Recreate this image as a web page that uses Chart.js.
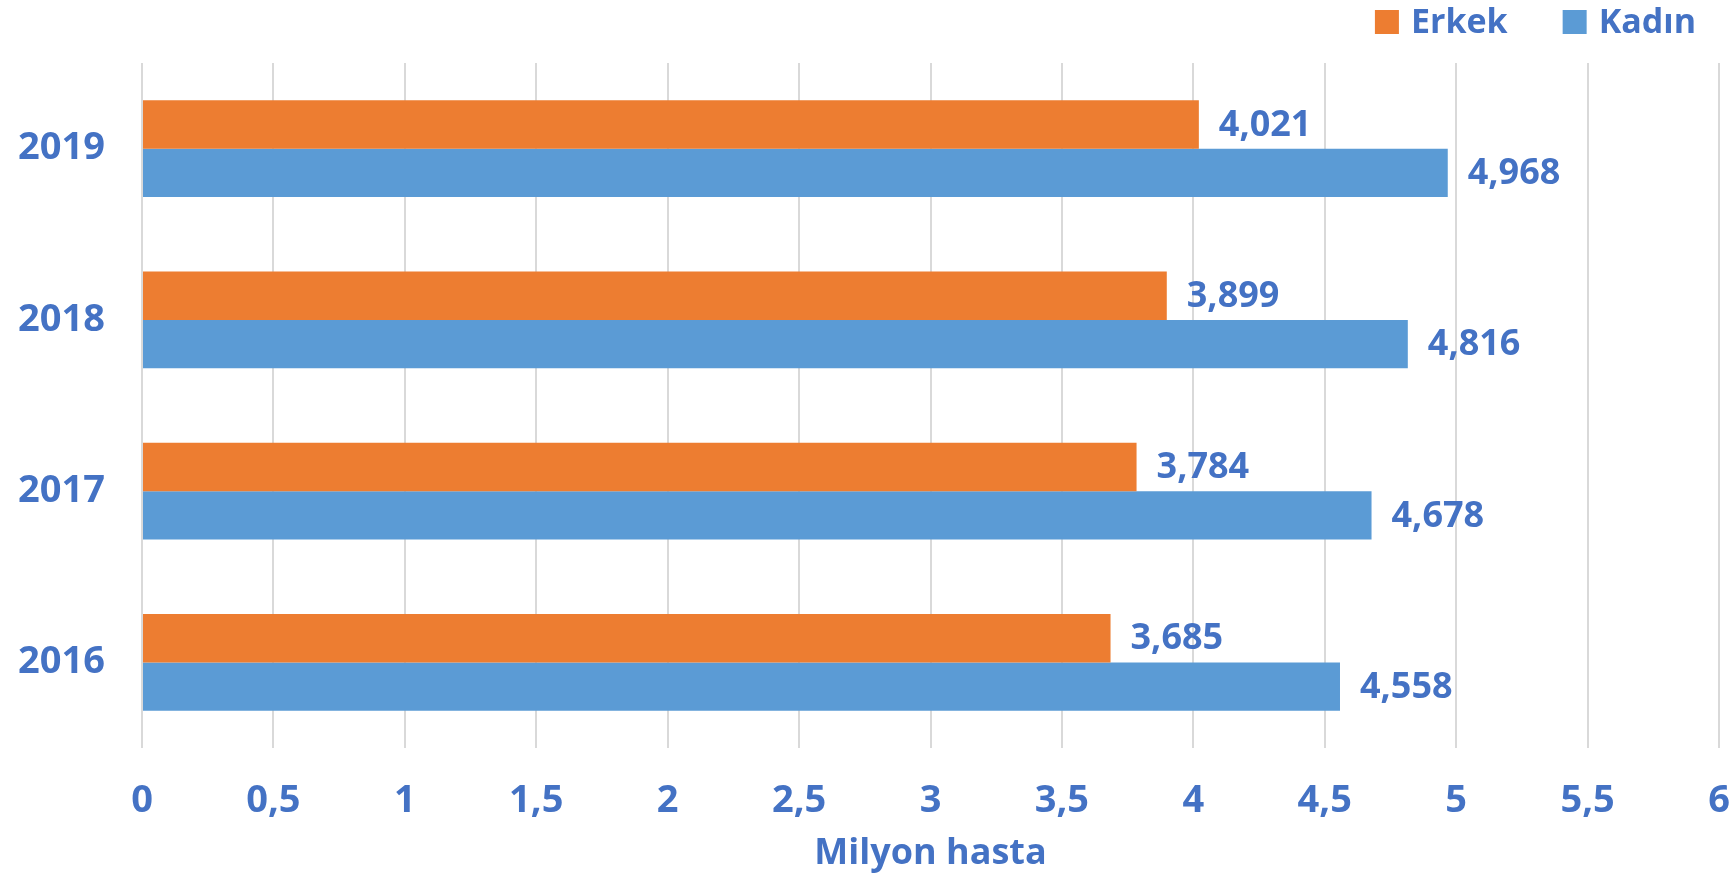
<!DOCTYPE html>
<html>
<head>
<meta charset="utf-8">
<script src="https://cdn.jsdelivr.net/npm/chart.js@4/dist/chart.umd.min.js"></script>
<style>
  html, body { margin: 0; padding: 0; background: #fff; }
  #wrap { width: 1735px; height: 879px; position: relative; }
</style>
</head>
<body>
<div id="wrap"><canvas id="chart"></canvas></div>
<script>
// Hasta sayıları (milyon), cinsiyete göre
const YEARS  = ["2019", "2018", "2017", "2016"];
const ERKEK  = [4.021, 3.899, 3.784, 3.685];
const KADIN  = [4.968, 4.816, 4.678, 4.558];
const X_TICKS = [0, 0.5, 1, 1.5, 2, 2.5, 3, 3.5, 4, 4.5, 5, 5.5, 6];

const TEXT_BLUE = "#4472c4";
const FONT = "'Open Sans', sans-serif";

const trNum = v => String(v).replace(".", ",");
const fmtLabel = v => v.toFixed(3).replace(".", ",");

// value labels at the bar ends
const endLabels = {
  id: "endLabels",
  afterDatasetsDraw(chart) {
    const ctx = chart.ctx;
    ctx.save();
    ctx.font = "bold 36px " + FONT;
    ctx.fillStyle = TEXT_BLUE;
    ctx.textAlign = "left";
    ctx.textBaseline = "middle";
    chart.data.datasets.forEach((ds, i) => {
      chart.getDatasetMeta(i).data.forEach((bar, j) => {
        ctx.fillText(fmtLabel(ds.data[j]), bar.x + 20, bar.y + 1);
      });
    });
    ctx.restore();
  }
};

// legend top right, spaced like the original
const topLegend = {
  id: "topLegend",
  afterDraw(chart) {
    const ctx = chart.ctx;
    const box = 24, gapText = 12, gapItem = 55, cy = 22;
    ctx.save();
    ctx.font = "bold 34px " + FONT;
    ctx.textBaseline = "middle";
    ctx.textAlign = "left";
    const items = chart.data.datasets.map(ds => ({ text: ds.label, color: ds.backgroundColor, w: ctx.measureText(ds.label).width }));
    const total = items.reduce((s, it) => s + box + gapText + it.w, 0) + gapItem * (items.length - 1);
    let x = 1696 - total;
    items.forEach(it => {
      ctx.fillStyle = it.color;
      ctx.fillRect(x, cy - box / 2, box, box);
      ctx.fillStyle = TEXT_BLUE;
      ctx.fillText(it.text, x + box + gapText, cy + 1);
      x += box + gapText + it.w + gapItem;
    });
    ctx.restore();
  }
};

new Chart(document.getElementById("chart"), {
  type: "bar",
  data: {
    labels: YEARS,
    datasets: [
      { label: "Erkek", data: ERKEK, backgroundColor: "#ed7d31" },
      { label: "Kadın", data: KADIN, backgroundColor: "#5b9bd5" },
    ],
  },
  options: {
    indexAxis: "y",
    responsive: true,
    maintainAspectRatio: false,
    animation: false,
    datasets: { bar: { categoryPercentage: 0.565, barPercentage: 1.0 } },
    layout: { padding: { left: 0, right: 16, top: 63, bottom: 4 } },
    plugins: {
      legend: { display: false },
      tooltip: { enabled: false },
    },
    scales: {
      x: {
        min: 0,
        max: 6,
        afterBuildTicks: axis => { axis.ticks = X_TICKS.map(v => ({ value: v })); },
        afterFit: axis => { axis.height = 127; axis.paddingLeft = 0; axis.paddingRight = 0; },
        ticks: {
          color: TEXT_BLUE,
          font: { family: FONT, size: 38, weight: "bold" },
          padding: 30,
          maxRotation: 0,
          autoSkip: false,
          callback: v => trNum(v),
        },
        grid: { color: "#d9d9d9", lineWidth: 2, drawTicks: false },
        border: { display: false },
        title: {
          display: true,
          text: "Milyon hasta",
          color: TEXT_BLUE,
          font: { family: FONT, size: 36, weight: "bold" },
          padding: { top: 0, bottom: 0 },
        },
      },
      y: {
        afterFit: axis => { axis.width = 142; },
        ticks: {
          color: TEXT_BLUE,
          font: { family: FONT, size: 38, weight: "bold" },
          padding: 37,
        },
        grid: { display: false, drawTicks: false },
        border: { display: false },
      },
    },
  },
  plugins: [endLabels, topLegend],
});
</script>
</body>
</html>
